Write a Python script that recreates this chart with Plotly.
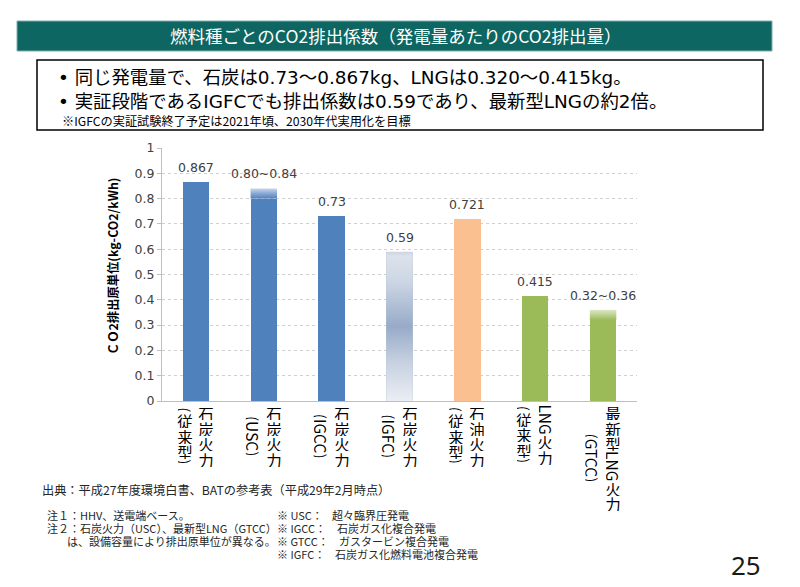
import plotly.graph_objects as go

# ---------------- data ----------------
categories_main = ["石炭火力", "石炭火力", "石炭火力", "石炭火力", "石油火力", "LNG火力", "最新型LNG火力"]
categories_sub = ["(従来型)", "(USC)", "(IGCC)", "(IGFC)", "(従来型)", "(従来型)", "(GTCC)"]
value_low = [0.867, 0.80, 0.73, 0.59, 0.721, 0.415, 0.32]
value_high = [0.867, 0.84, 0.73, 0.59, 0.721, 0.415, 0.36]
value_labels = ["0.867", "0.80~0.84", "0.73", "0.59", "0.721", "0.415", "0.32~0.36"]
y_tick_vals = [0, 0.1, 0.2, 0.3, 0.4, 0.5, 0.6, 0.7, 0.8, 0.9, 1]
y_tick_text = ["0", "0.1", "0.2", "0.3", "0.4", "0.5", "0.6", "0.7", "0.8", "0.9", "1"]

title_text = "燃料種ごとのCO2排出係数（発電量あたりのCO2排出量）"
bullet_lines = [
    "同じ発電量で、石炭は0.73～0.867kg、LNGは0.320～0.415kg。",
    "実証段階であるIGFCでも排出係数は0.59であり、最新型LNGの約2倍。",
]
box_note = "※IGFCの実証試験終了予定は2021年頃、2030年代実用化を目標"
y_title = "<b>ＣＯ2排出原単位(kg-CO2/kWh)</b>"
source_text = "出典：平成27年度環境白書、BATの参考表（平成29年2月時点）"
notes_left = ["注１：HHV、送電端ベース。", "注２：石炭火力（USC）、最新型LNG（GTCC）", "は、設備容量により排出原単位が異なる。"]
notes_right_key = ["※ USC：", "※ IGCC：", "※ GTCC：", "※ IGFC："]
notes_right_val = ["超々臨界圧発電", "石炭ガス化複合発電", "ガスタービン複合発電", "石炭ガス化燃料電池複合発電"]
page_number = "25"

# ---------------- style ----------------
BLUE, ORANGE, GREEN = "#4F81BD", "#FAC090", "#9BBB59"
bar_colors = [BLUE, BLUE, BLUE, "#B9C6DA", ORANGE, GREEN, GREEN]
# gradient overlays: index -> (mode, colorscale); 'cap' = low..high, 'full' = 0..high
gradients = {
    1: ("cap", [[0, "#4F81BD"], [0.5, "#89A8D2"], [1, "#C9D7EB"]]),
    3: ("full", [[0, "#EBEEF4"], [0.25, "#C8D2E1"], [0.5, "#97ABC8"], [0.8, "#CDD6E4"], [0.97, "#DCE2EC"], [1, "#CBD4E2"]]),
    6: ("cap", [[0, "#9BBB59"], [0.5, "#BCD190"], [1, "#DCE7C4"]]),
}
BAR_W = 0.39
JP = "Noto Sans CJK JP"
MIX = "DejaVu Sans, Noto Sans CJK JP"
NUM = "DejaVu Sans"
TXT = "#404040"

W, H = 800, 587
PL, PR, PT, PB = 162, 637, 148, 401


def fx(px):
    return (px - PL) / (PR - PL)


def fy(py):
    return (PB - py) / (PB - PT)


fig = go.Figure()

# base bars
fig.add_trace(go.Bar(
    x=list(range(len(value_low))), y=value_low, width=BAR_W,
    marker=dict(color=bar_colors, line=dict(width=0)),
    hoverinfo="skip", showlegend=False,
))

# gradient parts
for i, (mode, scale) in gradients.items():
    lo = value_low[i] if mode == "cap" else 0
    hi = value_high[i]
    xs = [i - BAR_W / 2, i + BAR_W / 2, i + BAR_W / 2, i - BAR_W / 2, i - BAR_W / 2]
    ys = [lo, lo, hi, hi, lo]
    fig.add_trace(go.Scatter(
        x=xs, y=ys, mode="lines", fill="toself", line=dict(width=0),
        fillgradient=dict(type="vertical", colorscale=scale, start=lo, stop=hi),
        hoverinfo="skip", showlegend=False,
    ))

annotations = []

# value labels
for i, lab in enumerate(value_labels):
    annotations.append(dict(
        x=i, y=value_high[i], xref="x", yref="y", text=lab, showarrow=False,
        xanchor="center", yanchor="bottom", yshift=5,
        font=dict(family=NUM, size=12.5, color=TXT),
    ))

# vertical (tategaki) category labels
CH = 15.5  # upright char advance
FS = 15.5


def tokens(s):
    out, buf = [], ""
    for ch in s:
        if ord(ch) < 128:
            buf += ch
        else:
            if buf:
                out.append(("r", buf))
                buf = ""
            out.append(("u", ch))
    if buf:
        out.append(("r", buf))
    return out


def tok_h(t):
    kind, s = t
    if kind == "u":
        return CH
    w = 0
    for c in s:
        w += FS * (0.36 if c in "()" else 0.62)
    return w


def place_column(i, s, top, xshift):
    cum = top
    for t in tokens(s):
        h = tok_h(t)
        ann = dict(
            x=i, y=0, xref="x", yref="y", text=t[1], showarrow=False,
            xanchor="center", yanchor="middle", xshift=xshift,
            yshift=-(cum + h / 2), borderpad=0,
            font=dict(family=JP, size=FS, color="#000000"),
        )
        if t[0] == "r":
            ann.update(textangle=90, width=h, height=14)
        else:
            ann.update(width=16, height=h - 0.5)
        annotations.append(ann)
        cum += h


for i in range(len(categories_main)):
    main_h = sum(tok_h(t) for t in tokens(categories_main[i]))
    sub_h = sum(tok_h(t) for t in tokens(categories_sub[i]))
    top = 4
    center = top + main_h / 2
    place_column(i, categories_main[i], top, 10)
    place_column(i, categories_sub[i], center - sub_h / 2, -11)

# y axis title
annotations.append(dict(
    x=0, y=fy(267), xref="paper", yref="paper", text=y_title, showarrow=False,
    xshift=-49, textangle=-90, xanchor="center", yanchor="middle",
    font=dict(family=JP, size=12.3, color="#000000"),
))

# header bar text
annotations.append(dict(
    x=fx(395), y=fy(36), xref="paper", yref="paper", text=title_text, showarrow=False,
    xanchor="center", yanchor="middle", font=dict(family=JP, size=17.5, color="#FFFFFF"),
))

# bullet box text
for k, line in enumerate(bullet_lines):
    annotations.append(dict(
        x=fx(56), y=fy([77, 101][k]), xref="paper", yref="paper",
        text="• " + line, showarrow=False, xanchor="left", yanchor="middle",
        font=dict(family=MIX, size=18.4, color="#000000"),
    ))
annotations.append(dict(
    x=fx(60), y=fy(121), xref="paper", yref="paper", text=box_note, showarrow=False,
    xanchor="left", yanchor="middle", font=dict(family=JP, size=12.2, color="#000000"),
))

# footnotes
annotations.append(dict(
    x=fx(40), y=fy(490), xref="paper", yref="paper", text=source_text, showarrow=False,
    xanchor="left", yanchor="middle", font=dict(family=JP, size=12.2, color="#262626"),
))
for k, (txt, xp) in enumerate(zip(notes_left, [45, 45, 65])):
    annotations.append(dict(
        x=fx(xp), y=fy(515 + 13 * k), xref="paper", yref="paper", text=txt, showarrow=False,
        xanchor="left", yanchor="middle", font=dict(family=JP, size=11, color="#262626"),
    ))
for k, (kk, vv, xv) in enumerate(zip(notes_right_key, notes_right_val, [330, 335, 337, 333])):
    annotations.append(dict(
        x=fx(275), y=fy(515 + 13 * k), xref="paper", yref="paper", text=kk, showarrow=False,
        xanchor="left", yanchor="middle", font=dict(family=JP, size=11, color="#262626"),
    ))
    annotations.append(dict(
        x=fx(xv), y=fy(515 + 13 * k), xref="paper", yref="paper", text=vv, showarrow=False,
        xanchor="left", yanchor="middle", font=dict(family=JP, size=11, color="#262626"),
    ))

annotations.append(dict(
    x=fx(746), y=fy(565), xref="paper", yref="paper", text=page_number, showarrow=False,
    xanchor="center", yanchor="middle", font=dict(family="Noto Sans", size=26, color="#1A1A1A"),
))

shapes = [
    dict(type="rect", xref="paper", yref="paper", x0=fx(17), x1=fx(772), y0=fy(51), y1=fy(21),
         fillcolor="#0D6661", line=dict(color="#7FB0AE", width=1), layer="below"),
    dict(type="rect", xref="paper", yref="paper", x0=fx(37), x1=fx(763), y0=fy(130), y1=fy(60),
         fillcolor="rgba(0,0,0,0)", line=dict(color="#000000", width=1.5), layer="below"),
]

fig.update_layout(
    width=W, height=H,
    margin=dict(l=PL, r=W - PR, t=PT, b=H - PB, pad=0),
    paper_bgcolor="#FFFFFF", plot_bgcolor="#FFFFFF",
    showlegend=False, bargap=0,
    annotations=annotations, shapes=shapes,
    xaxis=dict(range=[-0.5, 6.5], showticklabels=False, showgrid=False, zeroline=False,
               showline=True, linecolor="#BFBFBF", linewidth=1, ticks="", fixedrange=True),
    yaxis=dict(range=[0, 1], tickvals=y_tick_vals, ticktext=y_tick_text,
               showgrid=True, gridcolor="#D0D0D0", griddash="dot", gridwidth=1,
               zeroline=False, showline=True, linecolor="#BFBFBF", linewidth=1,
               ticks="outside", ticklen=4, tickcolor="#BFBFBF",
               tickfont=dict(family=NUM, size=12.5, color=TXT), fixedrange=True),
)

fig.write_html(
    "out.html",
    config={"displayModeBar": False},
    post_script="document.body.style.margin='0';document.body.style.overflow='hidden';",
)
